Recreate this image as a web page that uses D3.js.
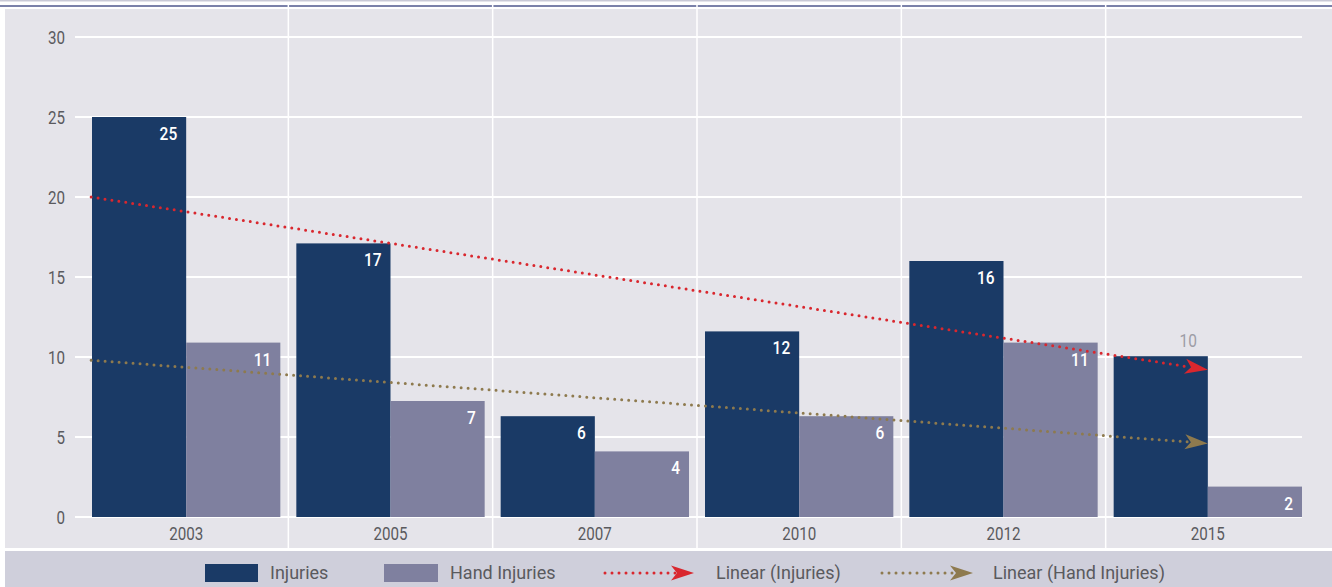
<!DOCTYPE html>
<html><head><meta charset="utf-8">
<script src="https://cdn.jsdelivr.net/npm/d3@7"></script>
<style>
html,body{margin:0;padding:0;background:#fff;}
svg{display:block;font-family:Roboto,"DejaVu Sans",sans-serif;}
</style></head>
<body>
<svg id="chart" width="1332" height="587"></svg>
<script>
const categories = ["2003","2005","2007","2010","2012","2015"];
const injuries = [25, 17.1, 6.3, 11.6, 16, 10.05];
const handInjuries = [10.9, 7.25, 4.1, 6.3, 10.9, 1.9];
const injuryLabels = ["25","17","6","12","16","10"];
const handLabels = ["11","7","4","6","11","2"];
const yTicks = [0,5,10,15,20,25,30];
// trendline endpoints: [category position, value]
const trendInjuries = [[0.535, 20.0],[6, 9.2]];
const trendHand = [[0.535, 9.8],[6, 4.6]];
const seriesNames = ["Injuries","Hand Injuries","Linear (Injuries)","Linear (Hand Injuries)"];

const W = 1332, H = 587;
const svg = d3.select("#chart");
const C = {inj:"#1a3a66", hand:"#7f809f", red:"#d9272e", brown:"#8e7a4e", bg:"#e5e4ea", legend:"#cfcfdb", text:"#5a5a5e"};
const SX = 0.82; // horizontal squeeze to mimic a condensed face

// top border
svg.append("rect").attr("x",0).attr("y",0).attr("width",W).attr("height",1.5).attr("fill","#c9c9d6");
svg.append("rect").attr("x",0).attr("y",5).attr("width",W).attr("height",2).attr("fill","#7b81a9");
// plot background
svg.append("rect").attr("x",5).attr("y",9).attr("width",W-5).attr("height",539).attr("fill",C.bg);
// legend band
svg.append("rect").attr("x",5).attr("y",551).attr("width",W-5).attr("height",H-551).attr("fill",C.legend);

const x = d3.scaleBand().domain(categories).range([84,1310]).paddingInner(0).paddingOuter(0);
const bw = x.bandwidth();
const xs = d3.scaleBand().domain(["inj","hand"]).range([8, bw-8]);
const xPos = d3.scaleLinear().domain([0.5, categories.length+0.5]).range([84,1310]);
const y = d3.scaleLinear().domain([0,30]).range([517,37]);

// vertical separators
svg.append("g").selectAll("line").data(categories.slice(1)).join("line")
  .attr("x1",d=>x(d)).attr("x2",d=>x(d)).attr("y1",5).attr("y2",548)
  .attr("stroke","#fff").attr("stroke-width",1.5);

// y axis labels + gridlines
const yAxis = d3.axisLeft(y).tickValues(yTicks).tickSize(0).tickPadding(0);
const gy = svg.append("g").attr("transform","translate(65,0)").call(yAxis);
gy.select(".domain").remove();
gy.selectAll("text").attr("font-size",18.5).attr("fill",C.text).attr("dy","0.36em").attr("x",0)
  .attr("transform",`scale(${SX},1)`).attr("font-family","Roboto, sans-serif");
svg.append("g").selectAll("line").data(yTicks).join("line")
  .attr("x1",75).attr("x2",1302).attr("y1",d=>y(d)).attr("y2",d=>y(d))
  .attr("stroke","#fff").attr("stroke-width",2);

// x axis labels
const xAxis = d3.axisBottom(x).tickSize(0).tickPadding(0);
const gx = svg.append("g").attr("transform","translate(0,540)").call(xAxis);
gx.select(".domain").remove();
gx.selectAll("text").attr("font-size",18.5).attr("fill",C.text).attr("dy","0").attr("y",0)
  .attr("transform",`scale(${SX},1)`).attr("font-family","Roboto, sans-serif");

// bars
const g = svg.append("g");
categories.forEach((c,i)=>{
  const xi = x(c)+xs("inj"), xh = x(c)+xs("hand");
  g.append("rect").attr("x",xi).attr("y",y(injuries[i])).attr("width",xs.bandwidth()).attr("height",y(0)-y(injuries[i])).attr("fill",C.inj);
  g.append("rect").attr("x",xh).attr("y",y(handInjuries[i])).attr("width",xs.bandwidth()).attr("height",y(0)-y(handInjuries[i])).attr("fill",C.hand);
});
// value labels
function label(px,py,txt,color,weight){
  g.append("text").attr("transform",`translate(${px},${py}) scale(0.86,1)`)
    .attr("text-anchor","end").attr("font-size",18).attr("font-weight",weight)
    .attr("fill",color).text(txt);
}
categories.forEach((c,i)=>{
  const xi = x(c)+xs("inj")+xs.bandwidth()-9, xh = x(c)+xs("hand")+xs.bandwidth()-9;
  const outside = i === categories.length-1;
  if (outside) label(xi-2, y(injuries[i])-9, injuryLabels[i], "#9d9da6", 400);
  else label(xi, y(injuries[i])+23, injuryLabels[i], "#fff", 500);
  label(xh, y(handInjuries[i])+23, handLabels[i], "#fff", 500);
});

// arrow markers
const defs = svg.append("defs");
function marker(id,color){
  defs.append("marker").attr("id",id).attr("markerUnits","userSpaceOnUse")
    .attr("viewBox","-24 -9 26 18").attr("markerWidth",26).attr("markerHeight",18)
    .attr("refX",-17).attr("refY",0).attr("orient","auto")
    .append("path").attr("d","M-23,-7.5 L0,0 L-23,7.5 L-17,0 Z").attr("fill",color);
}
marker("arRed",C.red); marker("arBrown",C.brown);

function trend(pts,color,mid){
  const [p0,p1] = pts;
  const x0 = xPos(p0[0]), y0 = y(p0[1]), x1 = xPos(p1[0]), y1 = y(p1[1]);
  const len = Math.hypot(x1-x0,y1-y0);
  const ex = x1 - (x1-x0)/len*17, ey = y1 - (y1-y0)/len*17;
  svg.append("line").attr("x1",x0).attr("y1",y0).attr("x2",ex).attr("y2",ey)
    .attr("stroke",color).attr("stroke-width",3).attr("stroke-linecap","round")
    .attr("stroke-dasharray","0,7").attr("marker-end",`url(#${mid})`);
}
trend(trendInjuries,C.red,"arRed");
trend(trendHand,C.brown,"arBrown");

// legend
const ly = 573;
const leg = svg.append("g");
function legText(px,txt){
  leg.append("text").attr("x",px).attr("y",ly).attr("dy","0.36em").attr("font-size",18)
    .attr("fill",C.text).text(txt);
}
leg.append("rect").attr("x",205).attr("y",ly-9).attr("width",53).attr("height",18).attr("fill",C.inj);
legText(270,seriesNames[0]);
leg.append("rect").attr("x",384).attr("y",ly-9).attr("width",54).attr("height",18).attr("fill",C.hand);
legText(450,seriesNames[1]);
function legLine(x0,x1,color,mid){
  leg.append("line").attr("x1",x0).attr("y1",ly).attr("x2",x1-17).attr("y2",ly)
    .attr("stroke",color).attr("stroke-width",3).attr("stroke-linecap","round")
    .attr("stroke-dasharray","0,7").attr("marker-end",`url(#${mid})`);
}
legLine(605,694,C.red,"arRed");
legText(716,seriesNames[2]);
legLine(882,973,C.brown,"arBrown");
legText(993,seriesNames[3]);
</script>
</body></html>
